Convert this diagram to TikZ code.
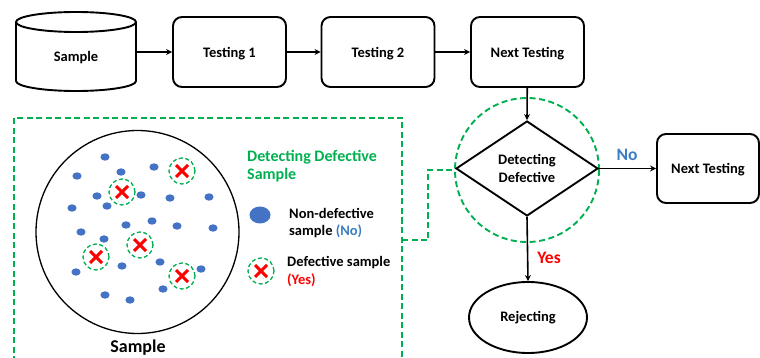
\documentclass[tikz,border=0pt]{standalone}
\usepackage{fontspec}
\setmainfont{Carlito}
\usetikzlibrary{arrows.meta,shapes.geometric}
\definecolor{gr}{HTML}{00B050}
\definecolor{dotblue}{HTML}{4472C4}
\definecolor{noblue}{HTML}{3B7DC4}
\tikzset{
  box/.style={draw, line width=1.9pt, rounded corners=9pt, minimum width=113pt, minimum height=70pt, text depth=0pt, font=\bfseries\fontsize{14.5}{17}\selectfont},
  arr/.style={line width=1.6pt, -{Stealth[length=6pt,width=6pt]}},
  gdash/.style={draw=gr, line width=1.9pt, dash pattern=on 6pt off 3.5pt},
  gdashthin/.style={draw=gr, line width=1.3pt, dash pattern=on 4pt off 2.5pt},
  txt/.style={font=\bfseries\fontsize{14.5}{17.5}\selectfont, align=left, anchor=west, inner sep=0pt},
  dot/.style={fill=dotblue},
}
\begin{document}
\begin{tikzpicture}[x=1pt,y=-1pt]
\useasboundingbox (0,0) rectangle (760,358);
% cylinder
\draw[line width=1.9pt] (16,22) -- (16,81) arc[start angle=180,end angle=360,x radius=60pt,y radius=10pt] -- (136,22);
\draw[line width=1.9pt] (76,22) ellipse [x radius=60pt, y radius=10pt];
\node[font=\bfseries\fontsize{14.5}{17}\selectfont, minimum width=120pt, minimum height=70pt] (cyl) at (76,58) {Sample};
\node[box] (t1) at (229.5,52) {Testing 1};
\node[box] (t2) at (378,52) {Testing 2};
\node[box] (nt) at (527.5,52) {Next Testing};
\draw[arr] (136,52) -- (t1.west);
\draw[arr] (t1) -- (t2);
\draw[arr] (t2) -- (nt);
% decision
\node[circle, gdash, minimum size=144pt, inner sep=0pt] (gc) at (527,170) {};
\node[diamond, draw, line width=1.9pt, minimum width=142pt, minimum height=95pt, aspect=1.5, inner sep=0pt, align=center, font=\bfseries\fontsize{14.5}{18}\selectfont] (dd) at (527,168.5) {Detecting\\Defective};
\draw[arr] (nt) -- (dd.north);
\node[box, minimum width=102pt, minimum height=69pt] (nt2) at (708,168.5) {Next Testing};
\draw[arr] (dd.east) -- (nt2.west);
\node[font=\bfseries\fontsize{17.5}{20}\selectfont, text=noblue] (no) at (627,155) {No};
\node[ellipse, draw, line width=1.9pt, minimum width=118pt, minimum height=71pt, font=\bfseries\fontsize{14.5}{17}\selectfont] (rej) at (528,317.5) {Rejecting};
\draw[arr] (dd.south) -- (rej.north);
\node[font=\bfseries\fontsize{17.5}{20}\selectfont, text=red] (yes) at (549,258) {Yes};
% dashed panel
\draw[gdash] (14,362) -- (14,118) -- (402,118) -- (402,362);
\coordinate (pc) at (402,240);
\draw[gdash] (pc) -- (428,240) |- (gc.west);
% sample circle
\node[circle, draw, line width=1.3pt, minimum size=203pt, inner sep=0pt] (sc) at (137.5,232) {};
\node[font=\bfseries\fontsize{18}{20}\selectfont] (slab) at (138,348) {Sample};
\foreach \x/\y in {105/157,77/176,121/172,154/167,97/196,107/206,141/195,170/198,209/197,72/208,126/225,152/221,177/226,213/228,81/232,104/239,122/266,160/262,201/269,76/272,163/289,105/295,130/300}
  \fill[dot] (\x,\y) ellipse [x radius=4.6pt, y radius=3.7pt];
\foreach \x/\y in {182/171,122/192,96/257,140/245,182/276,261/271}{
  \draw[gdashthin] (\x,\y) circle [radius=13pt];
  \draw[red, line width=3pt] (\x-6,\y-6) -- (\x+6,\y+6) (\x-6,\y+6) -- (\x+6,\y-6);
}
% legend
\node[txt, text=gr, font=\bfseries\fontsize{16}{18.5}\selectfont] (leg) at (247,166) {Detecting Defective\\Sample};
\fill[dot] (260,215) ellipse [x radius=10.5pt, y radius=8.5pt];
\node[txt] (l1) at (289,223) {Non-defective\\sample {\color{noblue}(No)}};
\node[txt] (l2) at (287,271.5) {Defective sample\\{\color{red}(Yes)}};
\end{tikzpicture}
\end{document}
